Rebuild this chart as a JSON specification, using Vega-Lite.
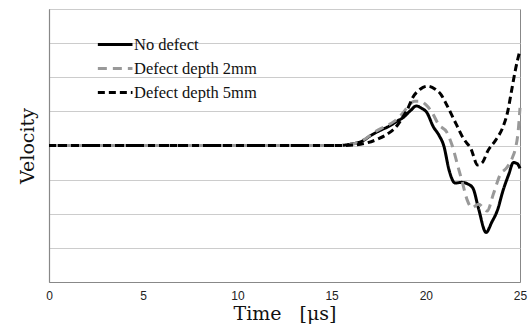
{
  "$schema": "https://vega.github.io/schema/vega-lite/v6.json",
  "width": 471,
  "height": 273,
  "autosize": {"type": "none"},
  "padding": {"left": 49, "top": 9, "right": 11, "bottom": 43},
  "background": "white",
  "config": {
    "view": {"stroke": "#888", "strokeWidth": 1},
    "axis": {"gridColor": "#cccccc", "gridWidth": 1.2, "domainColor": "#888", "domainWidth": 1.2}
  },
  "data": {
    "values": [
      {"t": 0, "v": 0, "s": "No defect"},
      {"t": 15.4, "v": 0, "s": "No defect"},
      {"t": 16.0, "v": 0.04, "s": "No defect"},
      {"t": 16.6, "v": 0.12, "s": "No defect"},
      {"t": 17.1, "v": 0.3, "s": "No defect"},
      {"t": 17.6, "v": 0.45, "s": "No defect"},
      {"t": 18.0, "v": 0.55, "s": "No defect"},
      {"t": 18.5, "v": 0.72, "s": "No defect"},
      {"t": 18.8, "v": 0.82, "s": "No defect"},
      {"t": 19.2, "v": 1.03, "s": "No defect"},
      {"t": 19.5, "v": 1.16, "s": "No defect"},
      {"t": 19.75, "v": 1.1, "s": "No defect"},
      {"t": 20.05, "v": 0.97, "s": "No defect"},
      {"t": 20.4, "v": 0.55, "s": "No defect"},
      {"t": 20.7, "v": 0.3, "s": "No defect"},
      {"t": 20.95, "v": 0.0, "s": "No defect"},
      {"t": 21.25, "v": -0.75, "s": "No defect"},
      {"t": 21.55, "v": -1.1, "s": "No defect"},
      {"t": 21.9, "v": -1.08, "s": "No defect"},
      {"t": 22.2, "v": -1.12, "s": "No defect"},
      {"t": 22.5, "v": -1.25, "s": "No defect"},
      {"t": 22.8, "v": -1.85, "s": "No defect"},
      {"t": 23.2, "v": -2.55, "s": "No defect"},
      {"t": 23.5, "v": -2.25, "s": "No defect"},
      {"t": 23.8, "v": -1.9, "s": "No defect"},
      {"t": 24.1, "v": -1.32, "s": "No defect"},
      {"t": 24.4, "v": -0.85, "s": "No defect"},
      {"t": 24.65, "v": -0.5, "s": "No defect"},
      {"t": 24.85, "v": -0.53, "s": "No defect"},
      {"t": 25, "v": -0.67, "s": "No defect"},

      {"t": 0, "v": 0, "s": "Defect depth 2mm"},
      {"t": 15.5, "v": 0, "s": "Defect depth 2mm"},
      {"t": 16.2, "v": 0.05, "s": "Defect depth 2mm"},
      {"t": 16.8, "v": 0.2, "s": "Defect depth 2mm"},
      {"t": 17.3, "v": 0.4, "s": "Defect depth 2mm"},
      {"t": 17.8, "v": 0.55, "s": "Defect depth 2mm"},
      {"t": 18.3, "v": 0.7, "s": "Defect depth 2mm"},
      {"t": 18.7, "v": 0.9, "s": "Defect depth 2mm"},
      {"t": 19.0, "v": 1.1, "s": "Defect depth 2mm"},
      {"t": 19.4, "v": 1.3, "s": "Defect depth 2mm"},
      {"t": 19.7, "v": 1.3, "s": "Defect depth 2mm"},
      {"t": 20.0, "v": 1.2, "s": "Defect depth 2mm"},
      {"t": 20.3, "v": 1.0, "s": "Defect depth 2mm"},
      {"t": 20.7, "v": 0.6, "s": "Defect depth 2mm"},
      {"t": 21.1, "v": 0.4, "s": "Defect depth 2mm"},
      {"t": 21.4, "v": 0.0, "s": "Defect depth 2mm"},
      {"t": 21.7, "v": -0.6, "s": "Defect depth 2mm"},
      {"t": 21.95, "v": -1.1, "s": "Defect depth 2mm"},
      {"t": 22.2, "v": -1.6, "s": "Defect depth 2mm"},
      {"t": 22.45, "v": -1.82, "s": "Defect depth 2mm"},
      {"t": 22.8, "v": -1.72, "s": "Defect depth 2mm"},
      {"t": 23.25, "v": -1.92, "s": "Defect depth 2mm"},
      {"t": 23.6, "v": -1.4, "s": "Defect depth 2mm"},
      {"t": 23.95, "v": -0.85, "s": "Defect depth 2mm"},
      {"t": 24.3, "v": -0.65, "s": "Defect depth 2mm"},
      {"t": 24.6, "v": -0.35, "s": "Defect depth 2mm"},
      {"t": 24.75, "v": -0.1, "s": "Defect depth 2mm"},
      {"t": 24.9, "v": 0.4, "s": "Defect depth 2mm"},
      {"t": 25, "v": 1.1, "s": "Defect depth 2mm"},

      {"t": 0, "v": 0, "s": "Defect depth 5mm"},
      {"t": 15.5, "v": 0, "s": "Defect depth 5mm"},
      {"t": 16.3, "v": 0.02, "s": "Defect depth 5mm"},
      {"t": 16.9, "v": 0.08, "s": "Defect depth 5mm"},
      {"t": 17.5, "v": 0.2, "s": "Defect depth 5mm"},
      {"t": 18.0, "v": 0.35, "s": "Defect depth 5mm"},
      {"t": 18.5, "v": 0.6, "s": "Defect depth 5mm"},
      {"t": 18.8, "v": 0.85, "s": "Defect depth 5mm"},
      {"t": 19.0, "v": 1.03, "s": "Defect depth 5mm"},
      {"t": 19.3, "v": 1.4, "s": "Defect depth 5mm"},
      {"t": 19.7, "v": 1.65, "s": "Defect depth 5mm"},
      {"t": 20.1, "v": 1.74, "s": "Defect depth 5mm"},
      {"t": 20.5, "v": 1.65, "s": "Defect depth 5mm"},
      {"t": 20.8, "v": 1.5, "s": "Defect depth 5mm"},
      {"t": 21.1, "v": 1.2, "s": "Defect depth 5mm"},
      {"t": 21.6, "v": 0.64, "s": "Defect depth 5mm"},
      {"t": 22.0, "v": 0.2, "s": "Defect depth 5mm"},
      {"t": 22.4, "v": -0.1, "s": "Defect depth 5mm"},
      {"t": 22.75, "v": -0.57, "s": "Defect depth 5mm"},
      {"t": 23.0, "v": -0.5, "s": "Defect depth 5mm"},
      {"t": 23.3, "v": -0.15, "s": "Defect depth 5mm"},
      {"t": 23.7, "v": 0.15, "s": "Defect depth 5mm"},
      {"t": 24.1, "v": 0.55, "s": "Defect depth 5mm"},
      {"t": 24.35, "v": 1.0, "s": "Defect depth 5mm"},
      {"t": 24.55, "v": 1.6, "s": "Defect depth 5mm"},
      {"t": 24.75, "v": 2.2, "s": "Defect depth 5mm"},
      {"t": 25, "v": 2.8, "s": "Defect depth 5mm"}
    ]
  },
  "mark": {"type": "line", "interpolate": "monotone", "strokeWidth": 3},
  "encoding": {
    "x": {
      "field": "t", "type": "quantitative",
      "scale": {"domain": [0, 25], "nice": false},
      "axis": {
        "values": [0, 5, 10, 15, 20, 25], "grid": false, "ticks": false,
        "labelFont": "Liberation Sans", "labelFontSize": 12, "labelColor": "#222",
        "labelPadding": 8, "labelFlush": false,
        "title": "Time\u00a0\u00a0\u00a0[μs]", "titleFont": "DejaVu Serif", "titleFontSize": 19,
        "titleFontWeight": "normal", "titleColor": "#111", "titlePadding": 3
      }
    },
    "y": {
      "field": "v", "type": "quantitative",
      "scale": {"domain": [-4, 4], "nice": false},
      "axis": {
        "values": [-4, -3, -2, -1, 0, 1, 2, 3, 4], "labels": false, "ticks": false,
        "grid": true,
        "title": "Velocity", "titleFont": "DejaVu Serif", "titleFontSize": 19,
        "titleFontWeight": "normal", "titleColor": "#111", "titlePadding": 12
      }
    },
    "color": {
      "field": "s", "type": "nominal",
      "scale": {"domain": ["No defect", "Defect depth 2mm", "Defect depth 5mm"], "range": ["#000000", "#999999", "#000000"]},
      "legend": {
        "title": null, "orient": "none", "legendX": 47, "legendY": 25,
        "symbolType": "M-1,0H3", "symbolSize": 300, "symbolStrokeWidth": 3,
        "symbolFillColor": "transparent",
        "labelFont": "Liberation Serif", "labelFontSize": 16.5, "labelColor": "#111",
        "labelOffset": 17, "rowPadding": 5
      }
    },
    "strokeDash": {
      "field": "s", "type": "nominal",
      "scale": {"domain": ["No defect", "Defect depth 2mm", "Defect depth 5mm"], "range": [[1, 0], [9, 6], [7, 4]]},
      "legend": {
        "title": null, "orient": "none", "legendX": 47, "legendY": 25,
        "symbolType": "M-1,0H3", "symbolSize": 300, "symbolStrokeWidth": 3,
        "symbolFillColor": "transparent",
        "labelFont": "Liberation Serif", "labelFontSize": 16.5, "labelColor": "#111",
        "labelOffset": 17, "rowPadding": 5
      }
    }
  }
}
